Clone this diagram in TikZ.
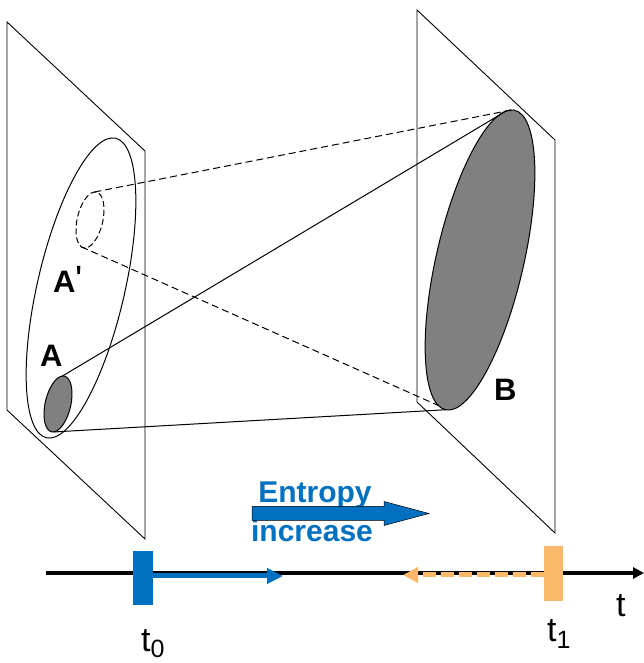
\documentclass[tikz,border=0pt]{standalone}
\usepackage{fontspec}
\setmainfont{Liberation Sans}
\newfontfamily\primefont{Liberation Sans}[Ligatures=TeXOff]
\usetikzlibrary{shapes.geometric,arrows.meta}
\definecolor{entblue}{HTML}{0070C0}
\definecolor{torange}{HTML}{FAB868}
\definecolor{ellgray}{HTML}{808080}
\begin{document}
\begin{tikzpicture}[x=1pt,y=1pt,
  plane/.style={draw=black,line width=0.9pt,line join=miter},
  ellbox/.style={ellipse,draw=black,line width=1pt,inner sep=0pt,outer sep=0pt,rotate=77},
  bigell/.style={ellbox,minimum width=307.4pt,minimum height=87.4pt},
  smallell/.style={ellbox,minimum width=57.2pt,minimum height=25.6pt},
  tang/.style={draw=black,line width=1pt},
  tangdash/.style={tang,dash pattern=on 7pt off 4pt},
  lbl/.style={font=\fontsize{31}{31}\selectfont\bfseries,inner sep=0pt,anchor=base west},
  tlbl/.style={font=\fontsize{34}{34}\selectfont,inner sep=0pt,anchor=base west},
  entlbl/.style={font=\fontsize{30}{30}\selectfont\bfseries,text=entblue,inner sep=0pt,anchor=base},
  bar/.style={inner sep=0pt,outer sep=0pt,draw=none},
]
\useasboundingbox (0,0) rectangle (644,663);

% planes
\draw[plane] (7,641) -- (145,512) -- (145,124) -- (7,253) -- cycle;
\draw[plane] (417,653) -- (555,523) -- (555,130) -- (417,261) -- cycle;

% ellipses
\node[bigell] (Big) at (81,375) {};
\node[bigell,fill=ellgray] (B) at (480,403) {};
\node[smallell,fill=ellgray] (A) at (58,259) {};
\node[smallell,dash pattern=on 6pt off 3pt] (Ap) at (90,443) {};

% connecting lines
\draw[tang] (A.4.5) -- (B.3.8);
\draw[tang] (A.184.5) -- (B.180.6);
\draw[tangdash] (Ap.4.5) -- (B.1);
\draw[tangdash] (Ap.175.5) -- (B.177);

% labels
\node[lbl] (lA) at (40,296) {A};
\node[lbl] (lAp) at (53,370) {A\raisebox{0pt}{\primefont\mdseries\fontsize{38}{38}\selectfont\char39}};
\node[lbl] (lB) at (494,262) {B};

% entropy arrow
\node[entlbl] (ent1) at (315,160) {Entropy};
\node[entlbl] (ent2) at (312,121) {increase};
\draw[fill=entblue,draw=black,line width=0.5pt,line join=miter]
  (252,142.5) -- (384,142.5) -- (384,137.5) -- (429,149.5) -- (384,161.5) -- (384,156.5) -- (252,156.5) -- cycle;

% timeline
\coordinate (tl0) at (46,90);
\coordinate (tl1) at (644,90);
\draw[line width=4pt,-{Triangle[length=11pt,width=11pt]}] (tl0) -- (tl1);

\node[bar,fill=entblue,minimum width=20pt,minimum height=54pt] (t0bar) at (143,85) {};
\node[bar,fill=torange,minimum width=19pt,minimum height=55pt] (t1bar) at (553.5,89.5) {};

\coordinate (b0) at (283,87);
\draw[entblue,line width=5pt,-{Triangle[length=16pt,width=15pt]}] (t0bar.east |- b0) -- (b0);
\coordinate (o0) at (403,88);
\draw[torange,line width=5pt,dash pattern=on 13pt off 5pt,-{Triangle[length=15pt,width=15pt]}] (t1bar.west |- o0) -- (o0);

\node[tlbl] (lt0) at (141,12) {t\raisebox{-6pt}{\fontsize{25}{25}\selectfont 0}};
\node[tlbl] (lt1) at (547,21) {t\raisebox{-7pt}{\fontsize{25}{25}\selectfont 1}};
\node[tlbl] (lt) at (616,46) {t};
\end{tikzpicture}
\end{document}
